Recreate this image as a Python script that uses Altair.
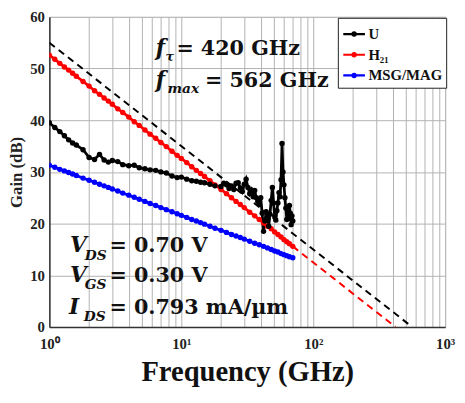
import altair as alt
import pandas as pd

# ---------------- data ----------------
freq = [1, 1.1, 1.2, 1.3, 1.4, 1.5, 1.6, 1.8, 2.0, 2.2, 2.4, 2.6, 2.8, 3.0, 3.3, 3.6,
        4.0, 4.4, 4.8, 5.3, 5.8, 6.4, 7.0, 7.7, 8.5, 9.3, 10, 11, 12, 13, 14, 15,
        16.5, 18, 20, 22, 24, 26, 28, 30, 33, 36, 39, 42, 45, 48, 51, 54, 57, 60,
        63, 66, 70]

h21 = [52.6, 51.8, 51.0, 50.3, 49.7, 49.1, 48.5, 47.5, 46.6, 45.7, 45.0, 44.3, 43.7,
       43.1, 42.2, 41.5, 40.6, 39.7, 39.0, 38.1, 37.3, 36.5, 35.7, 34.9, 34.0, 33.2,
       32.6, 31.8, 31.0, 30.3, 29.7, 29.1, 28.3, 27.5, 26.6, 25.8, 25.0, 24.3, 23.7,
       23.1, 22.2, 21.5, 20.8, 20.1, 19.5, 19.0, 18.4, 17.9, 17.4, 16.9, 16.5, 16.1,
       15.6]

msg = [31.3, 30.9, 30.5, 30.2, 29.9, 29.6, 29.3, 28.8, 28.4, 28.0, 27.6, 27.3, 27.0,
       26.7, 26.3, 25.9, 25.5, 25.1, 24.7, 24.3, 23.9, 23.5, 23.1, 22.7, 22.3, 21.9,
       21.6, 21.2, 20.8, 20.5, 20.2, 19.9, 19.5, 19.1, 18.7, 18.3, 17.9, 17.6, 17.3,
       17.0, 16.6, 16.2, 15.9, 15.6, 15.3, 15.0, 14.7, 14.5, 14.2, 14.0, 13.8, 13.6,
       13.4]

u_freq = [1, 1.1, 1.2, 1.3, 1.4, 1.5, 1.6, 1.8, 2.0, 2.2, 2.4, 2.6, 2.8, 3.0, 3.3, 3.6,
          4.0, 4.4, 4.8, 5.3, 5.8, 6.4, 7.0, 7.7, 8.5, 9.3, 10, 11, 12, 13, 14, 15,
          16.5, 18, 20, 21, 22, 23, 24, 25, 26, 27, 28, 29, 30, 31, 32, 33, 34, 35,
          36, 37, 38, 39, 40, 41, 42, 43, 44, 45, 46, 47, 48, 49, 50, 51, 52, 53, 54,
          55, 56, 57, 58, 59, 60, 61, 62, 63, 64, 65, 66, 67, 68, 69, 70]

u_gain = [39.5, 38.6, 37.8, 37.0, 36.2, 35.6, 35.2, 34.3, 32.8, 32.4, 33.4, 32.3, 31.9,
          32.2, 32.0, 31.4, 31.2, 31.3, 30.8, 30.6, 30.4, 30.3, 30.0, 29.8, 29.2, 28.9,
          29.0, 28.6, 28.3, 28.2, 28.0, 27.9, 27.6, 27.3, 27.2, 27.8, 27.5, 26.8, 27.3,
          26.6, 27.8, 27.9, 26.9, 26.2, 27.6, 28.6, 27.0, 25.8, 26.5, 25.2, 26.4, 25.0,
          24.3, 23.8, 25.0, 22.0, 18.5, 20.5, 22.3, 20.7, 19.5, 21.8, 24.5, 27.0, 24.0,
          21.5, 20.7, 22.5, 24.0, 26.0, 25.2, 28.5, 35.5, 30.0, 27.5, 25.0, 23.0, 20.8,
          22.5, 21.0, 23.5, 22.0, 19.8, 21.5, 20.5]

series_names = ["U", "H\u2082\u2081", "MSG/MAG"]
series_colors = ["#000000", "#ff0000", "#0000ff"]

# -20 dB/dec extrapolations (end points)
u_ext_f = [1, 562]
u_ext_g = [55.0, 0.0]
h21_ext_f = [70, 420]
h21_ext_g = [15.6, 0.0]

x_ticks = [1, 2, 3, 4, 5, 6, 7, 8, 9, 10, 20, 30, 40, 50, 60, 70, 80, 90,
           100, 200, 300, 400, 500, 600, 700, 800, 900, 1000]
y_ticks = [0, 10, 20, 30, 40, 50, 60]

# ---------------- tables ----------------
df = pd.concat([
    pd.DataFrame({"f": u_freq, "g": u_gain, "s": series_names[0], "o": 3}),
    pd.DataFrame({"f": freq, "g": h21, "s": series_names[1], "o": 2}),
    pd.DataFrame({"f": freq, "g": msg, "s": series_names[2], "o": 1}),
], ignore_index=True)

ext_u = pd.DataFrame({"f": u_ext_f, "g": u_ext_g})
ext_h = pd.DataFrame({"f": h21_ext_f, "g": h21_ext_g})

SERIF = "Liberation Serif"
WIDE = "DejaVu Serif"
GRID = "#b2b2b2"

xscale = alt.Scale(type="log", domain=[1, 1000], nice=False)
yscale = alt.Scale(domain=[0, 60], nice=False)

x_axis = alt.Axis(
    values=x_ticks, ticks=False, grid=True, gridColor=GRID, gridWidth=1, gridOpacity=1,
    labelExpr="datum.value==1?'10\u2070':datum.value==10?'10\u00b9':datum.value==100?'10\u00b2':datum.value==1000?'10\u00b3':''",
    labelFont=SERIF, labelFontWeight="bold", labelFontSize=15, labelPadding=10,
    labelColor="#222", labelFlush=False,
    title="Frequency (GHz)", titleFont=SERIF, titleFontWeight="bold",
    titleFontSize=29, titlePadding=6, titleColor="#111",
    domainColor="#333", domainWidth=1.5,
)
y_axis = alt.Axis(
    values=y_ticks, ticks=False, grid=True, gridColor=GRID, gridWidth=1, gridOpacity=1,
    labelFont=SERIF, labelFontWeight="bold", labelFontSize=15, labelPadding=5,
    labelColor="#222",
    title="Gain (dB)", titleFont=SERIF, titleFontWeight="bold", titleFontSize=17,
    titlePadding=4, titleColor="#222",
    domainColor="#333", domainWidth=1.5,
)

legend_symbol = "M-1,0L1,0M0.15,0A0.15,0.15,0,1,1,-0.15,0A0.15,0.15,0,1,1,0.15,0Z"

color = alt.Color(
    "s:N",
    scale=alt.Scale(domain=series_names, range=series_colors),
    sort=series_names,
    legend=alt.Legend(
        title=None, orient="none", legendX=293, legendY=1,
        symbolType=legend_symbol, symbolSize=484, symbolStrokeWidth=2.2,
        labelFont=SERIF, labelFontWeight="bold", labelFontSize=15, labelColor="#111",
        labelOffset=2, rowPadding=0, padding=4,
        strokeColor="#222", fillColor="white", cornerRadius=0,
    ),
)

base_x = alt.X("f:Q", scale=xscale, axis=x_axis)
base_y = alt.Y("g:Q", scale=yscale, axis=y_axis)

dash_u = alt.Chart(ext_u).mark_line(color="black", strokeDash=[7, 5], strokeWidth=2,
                                    clip=True).encode(x=base_x, y=base_y)
dash_h = alt.Chart(ext_h).mark_line(color="#ff0000", strokeDash=[7, 5], strokeWidth=2,
                                    clip=True).encode(x=base_x, y=base_y)

lines = alt.Chart(df).mark_line(
    strokeWidth=2.8, clip=True,
    point=alt.OverlayMarkDef(filled=True, size=30, opacity=1),
).encode(x=base_x, y=base_y, color=color, order="o:Q", detail="s:N")


def txt(s, x, y, size, italic=False, font=WIDE):
    return alt.Chart(pd.DataFrame({"t": [s]})).mark_text(
        align="left", baseline="alphabetic", font=font, fontSize=size,
        fontWeight="bold", fontStyle="italic" if italic else "normal", color="#111",
    ).encode(x=alt.value(x), y=alt.value(y), text="t:N")


notes = [
    txt("f", 108, 39, 22, True), txt("\u03c4", 118, 45, 13, True),
    txt("= 420 GHz", 129, 39, 21),
    txt("f", 108, 71, 22, True), txt("max", 120, 77, 14, True),
    txt("= 562 GHz", 158, 71, 21),
    txt("V", 21, 239, 22, True), txt("DS", 36, 247, 14, True), txt("= 0.70 V", 61, 239, 21),
    txt("V", 21, 269, 22, True), txt("GS", 36, 276, 14, True), txt("= 0.30 V", 61, 269, 21),
    txt("I", 20, 302, 22, True), txt("DS", 35, 309, 14, True), txt("= 0.793 mA/\u00b5m", 61, 302, 21),
]

chart = alt.layer(dash_u, dash_h, lines, *notes).properties(
    width=402, height=315,
    autosize=alt.AutoSizeParams(type="none"),
    padding={"left": 42, "top": 6, "right": 12, "bottom": 60},
).configure_view(stroke="#222", strokeWidth=1.5).configure(background="white")

chart.save("out.html", embed_options={"renderer": "svg", "actions": False})
